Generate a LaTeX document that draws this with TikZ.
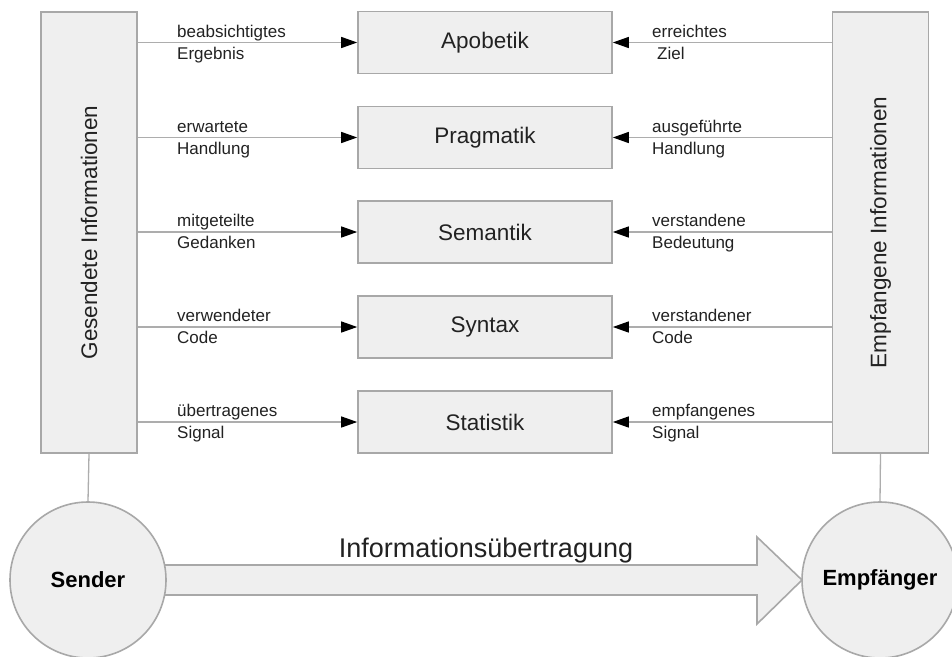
\documentclass[tikz,border=0pt]{standalone}
\usepackage{fontspec}
\setmainfont{Liberation Sans}
\usetikzlibrary{arrows.meta,calc}
\definecolor{boxfill}{HTML}{EFEFEF}
\definecolor{boxline}{HTML}{A8A8A8}
\definecolor{connline}{HTML}{ADADAD}
\definecolor{txt}{HTML}{222222}
\newcommand\labfont{\fontsize{17}{22}\selectfont}
\newcommand\boxfont{\fontsize{22.5}{26}\selectfont}
\newcommand\vfont{\fontsize{22.5}{26}\selectfont}
\newcommand\partyfont{\fontsize{22}{26}\selectfont\bfseries}
\newcommand\bigfont{\fontsize{27}{32}\selectfont}
\newcommand\twolines[2]{\strut#1\\\strut#2}
\begin{document}
\begin{tikzpicture}[x=1pt,y=-1pt,
  sidebox/.style={draw=boxline, fill=boxfill, line width=1.6pt, minimum width=96pt, minimum height=441pt, inner sep=0pt},
  layer/.style={draw=boxline, fill=boxfill, line width=1.6pt, minimum width=254pt, minimum height=62pt, inner sep=0pt, font=\boxfont, text=txt},
  conn/.style={draw=connline, line width=1.3pt, -{Triangle[length=16pt,width=11pt,color=black]}},
  lab/.style={font=\labfont, text=txt, align=left, anchor=west, inner sep=0pt},
  vlab/.style={font=\vfont, text=txt, rotate=90, inner sep=0pt},
  party/.style={circle, draw=boxline, fill=boxfill, line width=1.6pt, minimum size=156pt, inner sep=0pt, font=\partyfont, text=black},
  link/.style={draw=connline, line width=1.3pt},
  bigarrow/.style={draw=boxline, fill=boxfill, line width=1.6pt, line join=miter}
]
\useasboundingbox (0,0) rectangle (952,656);
\fill[white] (0,0) rectangle (952,656);

% side boxes
\node[sidebox] (L) at (89,232.5) {};
\node[sidebox] (R) at (880.5,232.5) {};
\node[vlab] (Ltext) at (L.center) {Gesendete Informationen};
\node[vlab] (Rtext) at (R.center) {Empfangene Informationen};

% layers
\node[layer] (apo) at (485,42.5) {Apobetik};
\node[layer] (pra) at (485,137.5) {Pragmatik};
\node[layer] (sem) at (485,232) {Semantik};
\node[layer] (syn) at (485,327) {Syntax};
\node[layer] (sta) at (485,422) {Statistik};

% connectors
\foreach \n in {apo,pra,sem,syn,sta}{
  \draw[conn] (L.east |- \n.west) -- (\n.west);
  \draw[conn] (R.west |- \n.east) -- (\n.east);
}

% left labels
\node[lab] (l1) at (177,44) {\twolines{beabsichtigtes}{Ergebnis}};
\node[lab] (l2) at (177,139) {\twolines{erwartete}{Handlung}};
\node[lab] (l3) at (177,233.5) {\twolines{mitgeteilte}{Gedanken}};
\node[lab] (l4) at (177,328.5) {\twolines{verwendeter}{Code}};
\node[lab] (l5) at (177,423.5) {\twolines{übertragenes}{Signal}};

% right labels
\node[lab] (r1) at (652,44) {\twolines{erreichtes}{\hspace*{5pt}Ziel}};
\node[lab] (r2) at (652,139) {\twolines{ausgeführte}{Handlung}};
\node[lab] (r3) at (652,233.5) {\twolines{verstandene}{Bedeutung}};
\node[lab] (r4) at (652,328.5) {\twolines{verstandener}{Code}};
\node[lab] (r5) at (652,423.5) {\twolines{empfangenes}{Signal}};

% parties
\coordinate (Sc) at (88,580);
\coordinate (Ec) at (880,580);
\coordinate (Sedge) at (160,580);
\coordinate (Etip) at (802,580);

\draw[bigarrow] ($(Sedge)+(0,-15)$) -- (757,565) -- (757,537) -- (Etip) -- (757,624) -- (757,595) -- ($(Sedge)+(0,15)$) -- cycle;

\node[party] (S) at (Sc) {Sender};
\node[party] (E) at (Ec) {Empfänger};

\draw[link] (L.south) -- (S.north);
\draw[link] (R.south) -- (E.north);

\node[font=\bigfont, text=txt, anchor=base, inner sep=0pt] (trans) at (486,557) {Informationsübertragung};
\end{tikzpicture}
\end{document}
